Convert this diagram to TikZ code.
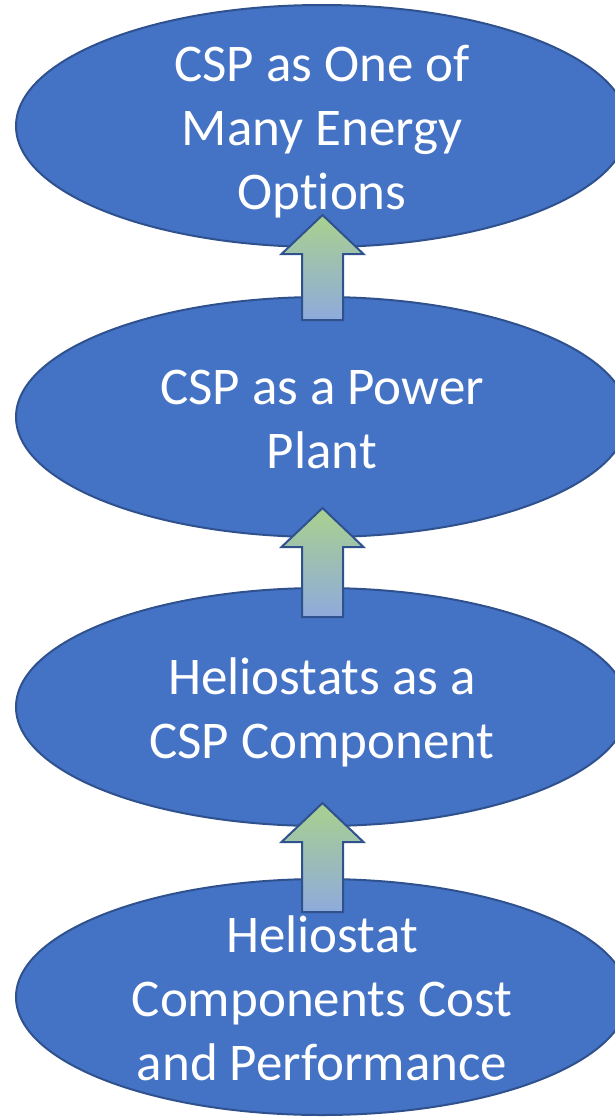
\documentclass[tikz,border=0pt]{standalone}
\usepackage{fontspec}
\setmainfont{Carlito}[Ligatures={NoCommon}]
\usetikzlibrary{shapes.geometric}
\definecolor{ellfill}{HTML}{4472C4}
\definecolor{ellline}{HTML}{2F528F}
\definecolor{arrtop}{HTML}{A9D18E}
\definecolor{arrbot}{HTML}{8FAADC}
\newcommand\lstrut{\rule[-10pt]{0pt}{58pt}}
\tikzset{
  ell/.style={ellipse, draw=ellline, line width=2pt, fill=ellfill,
    minimum width=612pt, inner sep=0pt, outer sep=0pt},
  lbl/.style={text=white, align=center, inner sep=0pt,
    font=\fontsize{53}{64}\selectfont},
  blockarrow/.style={draw=ellline, line width=2pt, line join=miter,
    top color=arrtop, bottom color=arrbot}
}
\newcommand\uparr[3]{% x, tip y, bottom y
  \path[blockarrow] (#1,#2) -- (#1+41,#2+39) -- (#1+20.5,#2+39)
    -- (#1+20.5,#3) -- (#1-20.5,#3) -- (#1-20.5,#2+39)
    -- (#1-41,#2+39) -- cycle;}
\begin{document}
\begin{tikzpicture}[x=1pt,y=-1pt]
\useasboundingbox (0,0) rectangle (615,1117);
\clip (0,0) rectangle (615,1117);
\node[ell, minimum height=242pt] (e1) at (322,126) {};
\node[ell, minimum height=240pt] (e2) at (322,417) {};
\node[ell, minimum height=238pt] (e3) at (322,707) {};
\node[ell, minimum height=236pt] (e4) at (322,997) {};
\node[lbl] (t1) at (e1.center) {\lstrut CSP as One of\\\lstrut Many Energy\\\lstrut Opt\kern0pt ions};
\node[lbl] (t2) at (e2.center) {\lstrut CSP as a Power\\\lstrut Plant};
\node[lbl] (t3) at (e3.center) {\lstrut Heliostats as a\\\lstrut CSP Component};
\node[lbl] (t4) at (e4.center) {\lstrut Heliostat\\\lstrut Components Cost\\\lstrut and Performance};
\uparr{322.5}{215}{320}
\uparr{322.5}{508}{617}
\uparr{322.5}{803}{912}
\end{tikzpicture}
\end{document}
